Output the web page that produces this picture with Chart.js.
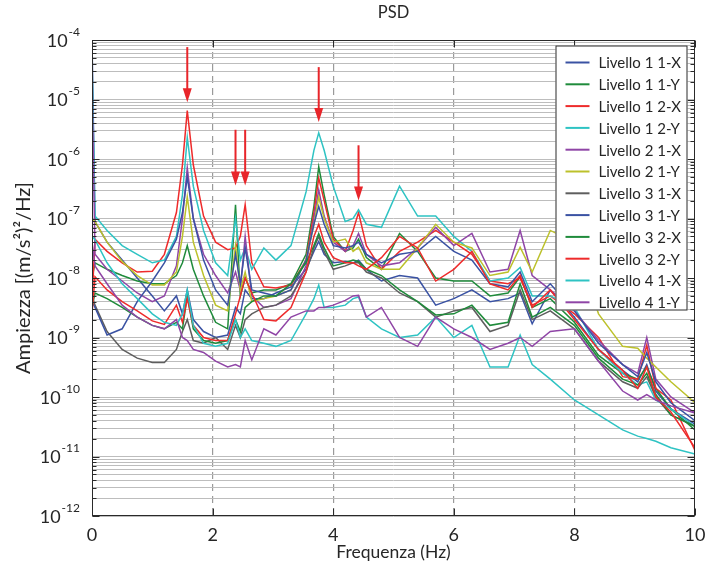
<!DOCTYPE html>
<html>
<head>
<meta charset="utf-8">
<script src="https://cdn.jsdelivr.net/npm/chart.js@4.4.1/dist/chart.umd.min.js"></script>
<style>
  body { margin: 0; background: #fff; }
  canvas { display: block; }
</style>
</head>
<body>
<canvas id="psd" width="708" height="570"></canvas>
<script>
// frequencies (Hz) shared by every series
const freq = [0, 0.05, 0.25, 0.5, 0.75, 1.0, 1.2, 1.4, 1.5, 1.58,
    1.68, 1.85, 2.05, 2.25, 2.38, 2.46, 2.54, 2.65, 2.85, 3.05,
    3.3, 3.55, 3.68, 3.76, 3.85, 4.0, 4.2, 4.33, 4.42, 4.55,
    4.8, 5.1, 5.4, 5.7, 6.0, 6.3, 6.6, 6.9, 7.1, 7.3,
    7.6, 8.0, 8.4, 8.8, 9.05, 9.2, 9.35, 9.6, 10];

// PSD values [(m/s2)2/Hz]
const l1_1x = [1e-4, 8.9e-8, 4e-8, 2e-8, 1e-8, 5e-9, 2.8e-9, 5e-9, 2.5e-9, 6.3e-9,
    2e-9, 1.26e-9, 1e-9, 1.1e-9, 3.2e-9, 2.5e-9, 6.3e-9, 4.5e-9, 4.5e-9, 5.6e-9,
    7.1e-9, 1.4e-8, 2.8e-8, 4.1e-8, 2.5e-8, 1.8e-8, 1.9e-8, 1.8e-8, 2e-8, 1.4e-8,
    8.9e-9, 1.1e-8, 1e-8, 3.5e-9, 4.5e-9, 6.3e-9, 4e-9, 4.5e-9, 5.6e-9, 1.7e-9,
    6.3e-9, 2.2e-9, 6.3e-10, 2.8e-10, 1.8e-10, 3.5e-10, 1.26e-10, 6.3e-11, 3.5e-11];
const l1_1y = [1e-8, 1.8e-8, 1.4e-8, 1.1e-8, 8.9e-9, 8e-9, 8e-9, 1.1e-8, 1.8e-8, 3.5e-8,
    1.4e-8, 5e-9, 1.8e-9, 1.4e-9, 1.7e-7, 5e-9, 1e-8, 5.6e-9, 6.3e-9, 6.3e-9,
    8e-9, 2.5e-8, 1.6e-7, 7.4e-7, 2.5e-7, 5e-8, 2.8e-8, 3.2e-8, 4.5e-8, 2.2e-8,
    1.4e-8, 5.6e-8, 2.8e-8, 1e-8, 8.9e-9, 8.9e-9, 5e-9, 5.6e-9, 1.05e-8, 3.2e-9,
    4.5e-9, 1.8e-9, 5e-10, 2.5e-10, 2e-10, 3.2e-10, 1.4e-10, 6.3e-11, 2.8e-11];
const l1_2x = [4e-9, 4.5e-8, 2.8e-8, 1.8e-8, 1.26e-8, 1.3e-8, 2.5e-8, 1.26e-7, 8e-7, 6.5e-6,
    8e-7, 1.1e-7, 4e-8, 3e-8, 3.2e-8, 5e-8, 1.7e-7, 1.8e-8, 7.1e-9, 6.8e-9,
    7.6e-9, 2e-8, 1.26e-7, 4.8e-7, 2e-7, 4.5e-8, 2.8e-8, 6.3e-8, 1.26e-7, 3.5e-8,
    1.4e-8, 2.8e-8, 4e-8, 6.3e-8, 4e-8, 2.5e-8, 8.9e-9, 8e-9, 1e-8, 3.5e-9,
    5e-9, 2.5e-9, 1e-9, 2.2e-10, 2e-10, 7.4e-10, 1.4e-10, 8.9e-11, 1.26e-11];
const l1_2y = [4.5e-5, 1.1e-7, 6.3e-8, 3.5e-8, 2.5e-8, 1.8e-8, 2e-8, 5e-8, 2.5e-7, 2.3e-6,
    3.5e-7, 6.3e-8, 1.8e-8, 1.1e-8, 1e-7, 2e-8, 3.2e-8, 1.4e-8, 3.2e-8, 2e-8,
    3.5e-8, 2.8e-7, 1.4e-6, 2.75e-6, 1.4e-6, 3.5e-7, 8.9e-8, 1e-7, 1.4e-7, 8e-8,
    7.1e-8, 3.5e-7, 1.1e-7, 1.1e-7, 5e-8, 2.8e-8, 8.9e-9, 1e-8, 1.5e-8, 5e-9,
    5e-9, 3.2e-9, 6.3e-10, 2.5e-10, 1.6e-10, 1.8e-10, 8.9e-11, 6.3e-11, 3.2e-11];
const l2_1x = [2.5e-5, 2.5e-8, 1.4e-8, 8.9e-9, 5.6e-9, 4e-9, 5e-9, 1.6e-8, 1e-7, 7.1e-7,
    1e-7, 2.5e-8, 1.1e-8, 5.6e-9, 1.26e-8, 6.3e-9, 5e-8, 5e-9, 3.2e-9, 3.5e-9,
    4.5e-9, 1.6e-8, 1e-7, 3e-7, 1.1e-7, 4e-8, 2.8e-8, 3.5e-8, 5.6e-8, 2.5e-8,
    1.6e-8, 1.8e-8, 3.2e-8, 7.1e-8, 3.5e-8, 5.6e-8, 1.26e-8, 1.4e-8, 6.3e-8, 1.1e-8,
    6.3e-9, 2.8e-9, 8.9e-10, 3.5e-10, 2.5e-10, 1e-9, 2e-10, 1e-10, 5.4e-11];
const l2_1y = [1e-7, 8.9e-8, 4e-8, 1.9e-8, 1.1e-8, 7.6e-9, 7.6e-9, 1.26e-8, 5e-8, 2.3e-7,
    4e-8, 1.1e-8, 3.5e-9, 2.8e-9, 3.5e-8, 6.3e-9, 1.26e-8, 4e-9, 4.5e-9, 5e-9,
    6.3e-9, 2e-8, 8e-8, 2.3e-7, 1e-7, 4e-8, 4.5e-8, 2.8e-8, 3.3e-8, 1.8e-8,
    1.4e-8, 1.4e-8, 3.2e-8, 8e-8, 4e-8, 3.2e-8, 1.1e-8, 1.26e-8, 3.3e-8, 1.26e-8,
    6.3e-8, 4e-8, 2.5e-9, 7.1e-10, 6.6e-10, 4.5e-10, 3.2e-10, 1.8e-10, 8e-11];
const l3_1x = [5e-9, 3.5e-9, 1.26e-9, 6.3e-10, 4.5e-10, 3.8e-10, 3.8e-10, 6.3e-10, 1.26e-9, 2e-9,
    8.9e-10, 8e-10, 1e-9, 6.3e-10, 1.6e-9, 1e-9, 2e-9, 2.5e-9, 3.2e-9, 3.5e-9,
    5e-9, 1.26e-8, 3.2e-8, 5e-8, 2.8e-8, 1.4e-8, 1.6e-8, 1.8e-8, 1.8e-8, 1.26e-8,
    1e-8, 5.6e-9, 4e-9, 2.2e-9, 2.8e-9, 3.2e-9, 1.26e-9, 1.6e-9, 6.3e-9, 2e-9,
    2.8e-9, 1.4e-9, 4e-10, 1.8e-10, 1.4e-10, 2.2e-10, 1e-10, 5e-11, 3.2e-11];
const l3_1y = [4e-9, 3.2e-9, 1.1e-9, 1.4e-9, 4e-9, 8.9e-9, 1.8e-8, 4.5e-8, 1.26e-7, 5e-7,
    1e-7, 2e-8, 6.3e-9, 3.5e-9, 2.5e-8, 8e-9, 3.2e-8, 6.3e-9, 5.6e-9, 5e-9,
    6.3e-9, 2e-8, 8e-8, 1.6e-7, 8e-8, 3.5e-8, 3.2e-8, 3.5e-8, 4e-8, 2.5e-8,
    1.8e-8, 2.5e-8, 2.8e-8, 5e-8, 2.8e-8, 2e-8, 8e-9, 7.1e-9, 1.26e-8, 4e-9,
    8e-9, 2.8e-9, 8e-10, 3.5e-10, 2.2e-10, 5.6e-10, 1.8e-10, 8e-11, 4e-11];
const l3_2x = [3.2e-9, 5.6e-9, 4.5e-9, 3.2e-9, 2.2e-9, 1.6e-9, 1.4e-9, 1.8e-9, 1.4e-9, 5e-9,
    1.4e-9, 8.9e-10, 8e-10, 8.9e-10, 2e-9, 1.26e-9, 3.2e-9, 4e-9, 5e-9, 5e-9,
    8e-9, 1.8e-8, 3.5e-8, 5.6e-8, 3.2e-8, 1.6e-8, 1.8e-8, 2e-8, 1.9e-8, 1.4e-8,
    1.1e-8, 6.3e-9, 4e-9, 2.4e-9, 2.5e-9, 3.5e-9, 1.6e-9, 1.8e-9, 8e-9, 2.2e-9,
    3.2e-9, 1.6e-9, 4.5e-10, 2e-10, 1.6e-10, 2.5e-10, 1.1e-10, 5e-11, 3.2e-11];
const l3_2y = [2.5e-9, 1.05e-8, 6.3e-9, 4e-9, 2.8e-9, 1.9e-9, 1.66e-9, 3.5e-9, 1.8e-9, 4.5e-9,
    1.6e-9, 1e-9, 8.9e-10, 8.9e-10, 2.5e-9, 5e-9, 1e-8, 5.6e-9, 2e-9, 1.9e-9,
    3.2e-9, 1.26e-8, 5e-8, 8e-8, 4e-8, 2.2e-8, 1.8e-8, 1.8e-8, 1.6e-8, 1.4e-8,
    2.2e-8, 5e-8, 3.2e-8, 8.9e-9, 1.4e-8, 2.8e-8, 8e-9, 6.3e-9, 1.1e-8, 3.2e-9,
    6.3e-9, 2e-9, 6.3e-10, 2.8e-10, 1.4e-10, 3.2e-10, 1e-10, 5.6e-11, 1.4e-11];
const l4_1x = [5e-8, 4.4e-8, 1.8e-8, 8e-9, 4.5e-9, 2.5e-9, 1.8e-9, 1.6e-9, 2.5e-9, 6.3e-9,
    1.6e-9, 8e-10, 7.1e-10, 8e-10, 2e-9, 1e-9, 1.4e-9, 8.9e-10, 8e-10, 7.1e-10,
    8.9e-10, 2.5e-9, 4.5e-9, 7.6e-9, 3.2e-9, 3.2e-9, 3.5e-9, 4.5e-9, 4.8e-9, 2.2e-9,
    1.4e-9, 1e-9, 1.1e-9, 2.2e-9, 1e-9, 1.6e-9, 3.2e-10, 3.2e-10, 1.1e-9, 3.5e-10,
    2e-10, 8.9e-11, 5e-11, 2.8e-11, 2.2e-11, 2e-11, 1.8e-11, 1.4e-11, 1.1e-11];
const l4_1y = [4e-8, 1.6e-8, 8e-9, 3.5e-9, 2.2e-9, 1.6e-9, 1.4e-9, 2e-9, 1e-9, 8.9e-10,
    6.3e-10, 5.6e-10, 4e-10, 3.2e-10, 3.5e-10, 3.2e-10, 8.9e-10, 4.2e-10, 1.4e-9, 1.1e-9,
    2.2e-9, 2.8e-9, 2.8e-9, 3.2e-9, 3.2e-9, 3.5e-9, 4.2e-9, 5e-9, 5.1e-9, 2.2e-9,
    3.2e-9, 1e-9, 7.1e-10, 2.2e-9, 1.4e-9, 1e-9, 6.3e-10, 8e-10, 1e-9, 7.1e-10,
    1.26e-9, 1.4e-9, 4e-10, 1.26e-10, 8.9e-11, 1.1e-10, 8.9e-11, 7.1e-11, 5.4e-11];

const seriesNames = ['Livello 1 1-X', 'Livello 1 1-Y', 'Livello 1 2-X', 'Livello 1 2-Y',
    'Livello 2 1-X', 'Livello 2 1-Y', 'Livello 3 1-X', 'Livello 3 1-Y',
    'Livello 3 2-X', 'Livello 3 2-Y', 'Livello 4 1-X', 'Livello 4 1-Y'];
const seriesValues = [l1_1x, l1_1y, l1_2x, l1_2y, l2_1x, l2_1y, l3_1x, l3_1y, l3_2x, l3_2y, l4_1x, l4_1y];
const seriesColors = ['#3a52a3', '#1f8b3b', '#ee2b2b', '#2ec3c3', '#8f45a6', '#bcc12b',
    '#5e5e5e', '#3a52a3', '#1f8b3b', '#ee2b2b', '#2ec3c3', '#8f45a6'];

// red arrows marking the modes
const arrowFreq = [1.58, 2.38, 2.54, 3.76, 4.42];
const arrowTop = [7.6e-5, 3.1e-6, 3.1e-6, 3.5e-5, 1.7e-6];
const arrowTip = [9e-6, 3.6e-7, 3.6e-7, 4.2e-6, 2e-7];

// tick labels
const xTicks = [0, 2, 4, 6, 8, 10];
const yDecades = [-4, -5, -6, -7, -8, -9, -10, -11, -12];

const FONT = 'Lato, "DejaVu Sans", sans-serif';
const TEXT = '#262626';

// log grid at 1..9 x 10^n
var yGrid = [];
for (var n = -12; n < -4; n++) {
    for (var m = 1; m <= 9; m++) yGrid.push(m * Math.pow(10, n));
}
yGrid.push(1e-4);

var decor = {
    id: 'decor',
    afterDraw: function (chart) {
        var ctx = chart.ctx;
        var a = chart.chartArea;
        var x = chart.scales.x, y = chart.scales.y;
        var L = Math.round(a.left) + 0.5, R = Math.round(a.right) - 0.5;
        var T = Math.round(a.top) + 0.5, B = Math.round(a.bottom) - 0.5;
        ctx.save();

        // arrows
        ctx.strokeStyle = '#e8252a';
        ctx.fillStyle = '#e8252a';
        ctx.lineWidth = 2;
        for (var i = 0; i < arrowFreq.length; i++) {
            var px = x.getPixelForValue(arrowFreq[i]);
            var y1 = y.getPixelForValue(arrowTop[i]);
            var y2 = y.getPixelForValue(arrowTip[i]);
            ctx.beginPath();
            ctx.moveTo(px, y1);
            ctx.lineTo(px, y2 - 10);
            ctx.stroke();
            ctx.beginPath();
            ctx.moveTo(px - 4.5, y2 - 14);
            ctx.lineTo(px + 4.5, y2 - 14);
            ctx.lineTo(px, y2);
            ctx.closePath();
            ctx.fill();
        }

        // frame + inner ticks
        ctx.strokeStyle = '#2a2a2a';
        ctx.lineWidth = 1;
        ctx.strokeRect(L, T, R - L, B - T);
        ctx.beginPath();
        yGrid.forEach(function (v) {
            var py = Math.round(y.getPixelForValue(v)) + 0.5;
            var major = Math.abs(Math.log10(v) - Math.round(Math.log10(v))) < 1e-6;
            var len = major ? 7 : 4;
            ctx.moveTo(L, py); ctx.lineTo(L + len, py);
            ctx.moveTo(R, py); ctx.lineTo(R - len, py);
        });
        xTicks.forEach(function (v) {
            var px = Math.round(x.getPixelForValue(v)) + 0.5;
            ctx.moveTo(px, B); ctx.lineTo(px, B - 7);
            ctx.moveTo(px, T); ctx.lineTo(px, T + 7);
        });
        ctx.stroke();

        // legend
        var lx = R - 7, lw = 132, ly = T + 5, lh = 265;
        ctx.fillStyle = '#fff';
        ctx.fillRect(lx - lw, ly, lw, lh);
        ctx.strokeStyle = '#2a2a2a';
        ctx.strokeRect(lx - lw + 0.5, ly + 0.5, lw - 1, lh - 1);
        ctx.font = '15px ' + FONT;
        ctx.textBaseline = 'middle';
        ctx.textAlign = 'left';
        chart.data.datasets.forEach(function (ds, i) {
            var cy = ly + 17 + i * 21.8;
            ctx.strokeStyle = ds.borderColor;
            ctx.lineWidth = 2;
            ctx.beginPath();
            ctx.moveTo(lx - lw + 10, cy);
            ctx.lineTo(lx - lw + 34, cy);
            ctx.stroke();
            ctx.fillStyle = TEXT;
            ctx.fillText(ds.label, lx - lw + 43, cy + 1);
        });

        // texts
        ctx.fillStyle = TEXT;
        ctx.textAlign = 'center';
        ctx.font = '18px ' + FONT;
        xTicks.forEach(function (v) {
            ctx.fillText(String(v), x.getPixelForValue(v), B + 20);
        });
        ctx.font = '17.5px ' + FONT;
        ctx.fillText('Frequenza (Hz)', (a.left + a.right) / 2, B + 37);
        ctx.font = '16.5px ' + FONT;
        ctx.fillText('PSD', (a.left + a.right) / 2, 13);

        yDecades.forEach(function (e) {
            var py = y.getPixelForValue(Math.pow(10, e));
            var ex = String(e);
            ctx.font = '12px ' + FONT;
            var ew = ctx.measureText(ex).width;
            ctx.textAlign = 'right';
            ctx.fillText(ex, 80, py - 8);
            ctx.font = '18px ' + FONT;
            ctx.fillText('10', 80 - ew - 1, py + 1);
        });

        ctx.translate(24, (a.top + a.bottom) / 2);
        ctx.rotate(-Math.PI / 2);
        ctx.textAlign = 'center';
        ctx.font = '20px ' + FONT;
        ctx.fillText('Ampiezza [(m/s\u00b2)\u00b2/Hz]', 0, 0);
        ctx.restore();
    }
};

new Chart(document.getElementById('psd'), {
    type: 'line',
    data: {
        datasets: seriesValues.map(function (vals, i) {
            return {
                label: seriesNames[i],
                data: freq.map(function (f, j) { return { x: f, y: vals[j] }; }),
                borderColor: seriesColors[i],
                borderWidth: 1.5,
                pointRadius: 0,
                tension: 0,
                order: seriesValues.length - i
            };
        })
    },
    options: {
        responsive: false,
        devicePixelRatio: 1,
        animation: false,
        layout: { padding: { left: 92, right: 13, top: 40, bottom: 54 } },
        plugins: { legend: { display: false }, tooltip: { enabled: false } },
        scales: {
            x: {
                type: 'linear', min: 0, max: 10,
                ticks: { stepSize: 2, display: false },
                grid: {
                    drawTicks: false, lineWidth: 1.2,
                    color: function (c) { return (c.tick && c.tick.value > 0 && c.tick.value < 10) ? '#9a9a9a' : 'rgba(0,0,0,0)'; }
                },
                border: { display: false, dash: [7, 5] },
                afterFit: function (s) { s.height = 0; }
            },
            y: {
                type: 'logarithmic', min: 1e-12, max: 1e-4,
                afterBuildTicks: function (s) { s.ticks = yGrid.map(function (v) { return { value: v }; }); },
                ticks: { display: false },
                grid: { drawTicks: false, color: '#bdbdbd', lineWidth: 1 },
                border: { display: false },
                afterFit: function (s) { s.width = 0; }
            }
        }
    },
    plugins: [decor]
});
</script>
</body>
</html>
